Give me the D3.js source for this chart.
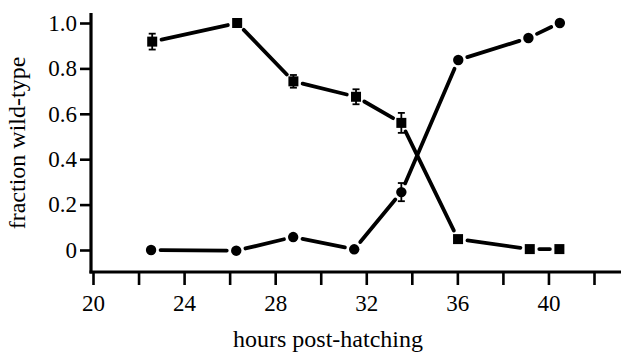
<!DOCTYPE html>
<html>
<head>
<meta charset="utf-8">
<script src="https://cdn.jsdelivr.net/npm/d3@7"></script>
<style>
  body { margin: 0; background: #fff; }
  text { font-family: "Liberation Serif", "Times New Roman", serif; fill: #000; }
</style>
</head>
<body>
<div id="chart"></div>
<script>
// series
var squareHours = [22.6, 26.33, 28.8, 31.55, 33.54, 36.03, 39.18, 40.48];
var squareVals  = [0.918, 1.0, 0.743, 0.675, 0.56, 0.048, 0.004, 0.004];
var squareErr   = [0.035, 0, 0.028, 0.033, 0.044, 0, 0, 0];

var circleHours = [22.55, 26.29, 28.79, 31.47, 33.54, 36.04, 39.12, 40.5];
var circleVals  = [0.0, -0.003, 0.057, 0.003, 0.255, 0.837, 0.934, 1.0];
var circleErr   = [0, 0, 0, 0, 0.04, 0, 0, 0];

var xTicks = [20, 22, 24, 26, 28, 30, 32, 34, 36, 38, 40, 42];
var xLabels = [20, 24, 28, 32, 36, 40];
var yTicks = [0, 0.2, 0.4, 0.6, 0.8, 1.0];

var W = 622, H = 355;
var serif = '"Liberation Serif", "Times New Roman", serif';
var svg = d3.select("#chart").append("svg").attr("width", W).attr("height", H);

var x = d3.scaleLinear().domain([20, 42]).range([93, 594]);
var y = d3.scaleLinear().domain([0, 1]).range([250, 23]);

var axisX0 = 91, axisY0 = 272;

// axes lines
svg.append("line").attr("x1", axisX0).attr("x2", axisX0).attr("y1", 13).attr("y2", axisY0 + 1.5)
  .attr("stroke", "#000").attr("stroke-width", 3.2);
svg.append("line").attr("x1", axisX0 - 1.5).attr("x2", 621).attr("y1", axisY0).attr("y2", axisY0)
  .attr("stroke", "#000").attr("stroke-width", 3.2);

// y axis ticks + labels
var yAxis = svg.append("g").attr("transform", "translate(" + axisX0 + ",0)")
  .call(d3.axisLeft(y).tickValues(yTicks).tickSize(11).tickPadding(3)
    .tickFormat(function (d) { return d === 0 ? "0" : d3.format(".1f")(d); }));
yAxis.select(".domain").remove();
yAxis.attr("font-family", serif);
yAxis.selectAll(".tick line").attr("stroke", "#000").attr("stroke-width", 2.6);
yAxis.selectAll(".tick text").style("font-family", serif).style("font-size", "23px").attr("fill", "#000");

// x axis ticks + labels
var xAxis = svg.append("g").attr("transform", "translate(0," + axisY0 + ")")
  .call(d3.axisBottom(x).tickValues(xTicks).tickSize(13).tickPadding(10)
    .tickFormat(function (d) { return xLabels.indexOf(d) >= 0 ? d : ""; }));
xAxis.select(".domain").remove();
xAxis.attr("font-family", serif);
xAxis.selectAll(".tick line").attr("stroke", "#000").attr("stroke-width", 2.6);
xAxis.selectAll(".tick text").style("font-family", serif).style("font-size", "23px").attr("fill", "#000");

// titles
svg.append("text").attr("x", 328).attr("y", 347).attr("text-anchor", "middle")
  .style("font-family", serif).style("font-size", "24px").text("hours post-hatching");
svg.append("text").attr("transform", "translate(25,143) rotate(-90)").attr("text-anchor", "middle")
  .style("font-family", serif).style("font-size", "24px").text("fraction wild-type");

// connecting segments, trimmed so there is a gap next to each marker
function segments(hs, vs, gap) {
  var out = [];
  for (var i = 0; i < hs.length - 1; i++) {
    var x1 = x(hs[i]), y1 = y(vs[i]), x2 = x(hs[i + 1]), y2 = y(vs[i + 1]);
    var dx = x2 - x1, dy = y2 - y1, len = Math.sqrt(dx * dx + dy * dy);
    var ux = dx / len, uy = dy / len;
    out.push({ x1: x1 + ux * gap, y1: y1 + uy * gap, x2: x2 - ux * gap, y2: y2 - uy * gap });
  }
  return out;
}

function drawLine(hs, vs) {
  svg.append("g").selectAll("line").data(segments(hs, vs, 9.5)).join("line")
    .attr("x1", d => d.x1).attr("y1", d => d.y1).attr("x2", d => d.x2).attr("y2", d => d.y2)
    .attr("stroke", "#000").attr("stroke-width", 3.8).attr("stroke-linecap", "round");
}
drawLine(squareHours, squareVals);
drawLine(circleHours, circleVals);

// error bars
function drawErr(hs, vs, es) {
  var pts = hs.map((h, i) => ({ h: h, v: vs[i], e: es[i] })).filter(d => d.e > 0);
  var g = svg.append("g").attr("stroke", "#000").attr("stroke-width", 1.8);
  g.selectAll(".ev").data(pts).join("line")
    .attr("x1", d => x(d.h)).attr("x2", d => x(d.h))
    .attr("y1", d => y(d.v + d.e)).attr("y2", d => y(d.v - d.e));
  g.selectAll(".ct").data(pts).join("line").attr("class", "ct")
    .attr("x1", d => x(d.h) - 3.5).attr("x2", d => x(d.h) + 3.5)
    .attr("y1", d => y(d.v + d.e)).attr("y2", d => y(d.v + d.e));
  g.selectAll(".cb").data(pts).join("line").attr("class", "cb")
    .attr("x1", d => x(d.h) - 3.5).attr("x2", d => x(d.h) + 3.5)
    .attr("y1", d => y(d.v - d.e)).attr("y2", d => y(d.v - d.e));
}
drawErr(squareHours, squareVals, squareErr);
drawErr(circleHours, circleVals, circleErr);

// markers
svg.append("g").selectAll("rect").data(squareHours).join("rect")
  .attr("x", (d) => x(d) - 5).attr("y", (d, i) => y(squareVals[i]) - 5)
  .attr("width", 10).attr("height", 10).attr("fill", "#000");
svg.append("g").selectAll("circle").data(circleHours).join("circle")
  .attr("cx", (d) => x(d)).attr("cy", (d, i) => y(circleVals[i]))
  .attr("r", 5.2).attr("fill", "#000");
</script>
</body>
</html>
